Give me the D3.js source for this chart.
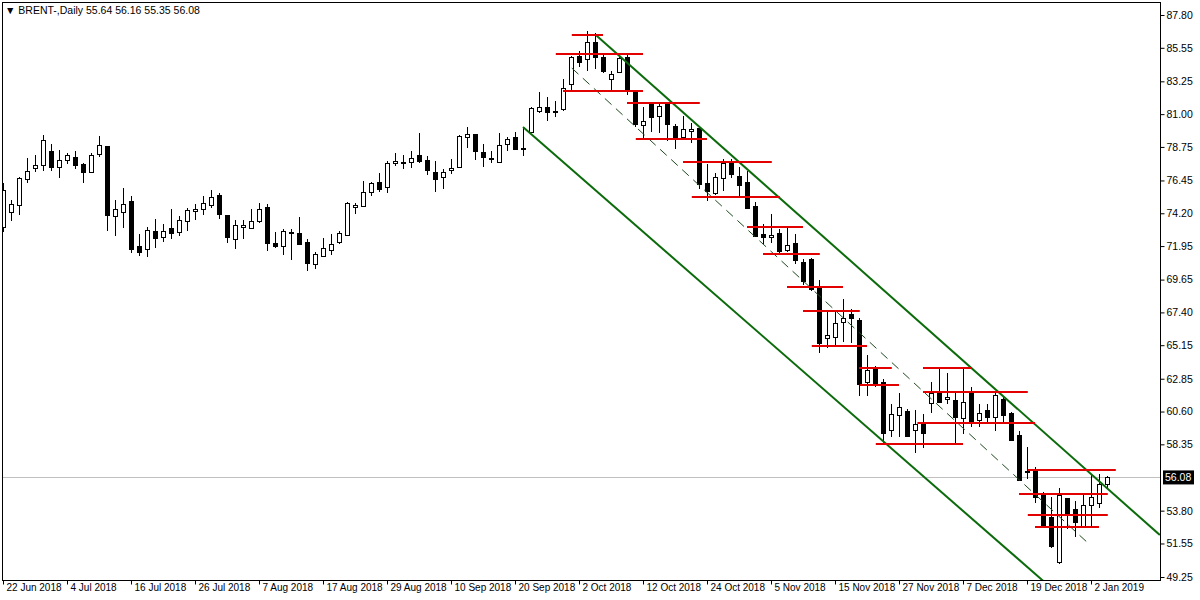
<!DOCTYPE html>
<html>
<head>
<meta charset="utf-8">
<script src="https://cdn.jsdelivr.net/npm/d3@7"></script>
<style>
  body { margin: 0; background: #fff; }
  svg text { font-family: "Liberation Sans", Arial, sans-serif; font-size: 10.5px; fill: #000; }
  .xaxis text { font-size: 10px; }
</style>
</head>
<body>
<svg id="chart" width="1200" height="600"></svg>
<script>
// daily BRENT candles
var opens = [73.26,74.29,74.77,76.55,77.30,77.51,78.47,77.37,77.85,78.06,77.58,77.03,78.26,78.81,74.01,74.29,75.04,71.95,71.75,72.98,
  72.57,73.19,72.91,73.67,74.35,74.49,74.77,75.45,74.08,72.43,73.26,73.19,73.67,74.63,72.16,71.95,72.85,72.85,72.23,70.72,
  71.27,71.68,72.23,72.71,74.63,74.70,75.66,76.34,76.00,77.65,77.68,77.72,78.20,77.85,77.03,76.69,77.20,77.37,79.43,79.64,
  78.40,77.97,77.72,78.95,79.43,78.68,79.77,81.21,81.49,81.19,81.35,83.07,84.99,84.78,85.95,84.92,83.41,83.89,84.92,82.52,
  80.25,81.69,80.87,81.69,80.19,79.43,79.84,80.05,76.28,75.59,76.62,77.65,76.76,76.34,74.70,72.78,72.57,72.85,71.68,72.16,
  70.85,71.06,69.14,65.64,65.71,66.74,67.29,66.88,62.62,63.51,62.62,59.33,60.36,60.63,59.33,59.74,61.18,61.87,61.46,61.39,
  60.15,61.87,60.02,60.70,60.22,61.46,60.50,58.99,56.52,56.52,54.87,53.36,50.28,54.66,53.91,52.75,54.19,54.32,55.64];
var highs = [76.30,75.10,76.69,77.99,78.20,79.57,78.95,78.54,78.33,78.47,77.65,78.33,79.50,78.81,75.11,75.93,75.38,72.78,73.26,73.81,
  73.46,74.49,74.01,74.56,74.83,75.38,75.80,75.59,74.08,73.74,73.74,74.49,74.90,74.83,72.91,73.12,73.12,73.94,72.43,71.54,
  72.50,72.78,72.98,74.97,74.90,76.41,76.34,76.96,77.78,78.33,78.20,78.47,79.71,78.13,77.78,77.24,77.92,79.57,80.12,79.64,
  78.95,78.47,79.71,79.43,79.77,80.05,81.49,82.52,82.17,81.90,83.41,84.99,85.33,86.70,86.57,85.19,83.96,85.06,85.06,82.52,
  81.49,81.76,81.76,81.76,80.32,80.87,80.39,80.05,77.58,76.96,77.92,77.92,77.37,77.10,74.97,73.46,74.15,73.12,73.26,72.78,
  71.06,71.13,69.62,67.43,67.43,68.32,67.63,67.01,64.48,63.72,62.83,61.11,61.87,60.77,60.70,60.43,62.62,63.58,63.24,61.87,
  63.65,62.28,61.11,61.11,61.94,61.60,60.57,59.26,58.16,56.79,55.08,54.73,55.35,54.66,54.46,54.87,56.31,56.31,56.16];
var lows = [72.90,73.67,74.08,76.28,77.03,77.10,77.10,76.62,77.58,77.24,76.28,76.96,78.06,72.98,72.64,73.19,71.47,71.27,71.20,71.82,
  72.23,72.43,72.64,72.98,73.74,74.08,74.56,73.81,72.16,71.75,72.43,73.12,73.53,71.61,71.82,71.34,70.99,72.09,70.24,70.38,
  71.20,71.34,72.09,72.64,74.15,74.63,75.38,75.66,75.59,77.44,77.24,77.30,77.65,76.82,75.66,75.86,76.89,77.30,78.68,77.85,
  77.37,77.65,77.65,78.47,78.61,78.13,79.77,81.08,80.53,80.80,81.21,82.52,84.23,83.96,84.10,83.82,82.66,83.82,82.31,80.12,
  79.22,79.77,79.70,79.16,78.61,79.29,79.02,75.86,75.04,75.45,75.73,76.62,75.25,74.56,72.57,72.09,72.16,71.47,71.54,70.72,
  69.28,68.87,64.61,64.96,65.02,65.37,65.30,61.66,61.66,62.28,58.44,58.85,58.85,58.85,57.75,58.10,60.50,61.18,61.11,58.44,
  59.06,59.54,59.54,59.88,59.26,59.88,58.58,55.90,55.97,54.32,52.68,51.24,50.14,52.54,51.99,52.68,52.68,53.98,55.35];
var closes = [75.80,74.83,76.62,77.10,77.51,79.22,77.37,77.85,78.20,77.51,77.03,78.20,78.88,74.08,74.49,74.83,71.75,71.54,73.05,72.50,
  72.98,72.85,73.74,74.42,74.49,74.90,75.31,74.15,72.57,73.39,73.39,73.67,74.49,72.16,71.95,72.98,72.91,72.09,70.79,71.41,
  71.82,72.09,72.85,74.90,74.77,75.66,76.28,75.86,77.65,77.78,77.72,77.99,77.78,77.17,76.55,77.03,77.28,79.50,79.64,78.47,
  78.06,78.01,78.88,79.30,78.61,78.70,81.42,81.49,81.15,81.23,82.79,84.92,84.58,85.95,84.92,83.96,83.75,84.85,82.59,80.32,
  80.53,80.80,81.56,80.32,79.43,79.98,79.98,76.21,75.73,76.69,77.65,76.89,76.14,74.56,72.64,72.57,72.71,71.61,72.02,70.99,
  69.55,69.00,65.30,65.85,66.67,67.01,67.01,62.49,63.45,62.42,59.12,60.43,60.91,58.92,59.74,59.12,61.87,61.25,61.59,60.22,
  61.25,59.81,60.50,60.22,61.73,60.36,58.64,55.90,56.45,54.73,52.75,51.37,54.87,53.50,53.02,54.19,54.73,55.63,56.08];

// x axis labels, one every 8 bars
var dateTicks = [0,8,16,24,32,40,48,56,64,72,80,88,96,104,112,120,128,136];
var dateLabels = ["22 Jun 2018","4 Jul 2018","16 Jul 2018","26 Jul 2018","7 Aug 2018","17 Aug 2018","29 Aug 2018",
  "10 Sep 2018","20 Sep 2018","2 Oct 2018","12 Oct 2018","24 Oct 2018","5 Nov 2018","15 Nov 2018","27 Nov 2018",
  "7 Dec 2018","19 Dec 2018","2 Jan 2019"];
var priceTicks = [87.80,85.55,83.25,81.00,78.75,76.45,74.20,71.95,69.65,67.40,65.15,62.85,60.60,58.35,53.80,51.55,49.25];
var lastPrice = 56.08;

// channel: upper, lower, middle (bar index, price)
var upperLine = [[74.1, 86.43], [144.6, 52.13]];
var lowerLine = [[65.0, 80.12], [135.0, 46.60]];
var midLine = [[71.1, 84.16], [135.9, 51.44]];

// red horizontal levels: [from bar, to bar, price]
var levelFrom = [71.1,69.1,70.0,78.0,79.1,85.0,86.1,93.0,95.0,98.0,100.0,101.1,107.0,107.1,115.0,115.0,114.3,109.1,128.1,127.0,128.1,129.0];
var levelTo   = [75.0,80.0,80.0,87.1,88.0,96.1,97.1,100.0,102.1,105.0,107.1,108.0,111.1,112.0,121.1,128.1,129.0,120.0,139.1,138.1,138.1,137.0];
var levelPrice = [86.43,85.12,82.59,81.76,79.29,77.72,75.31,73.26,71.40,69.14,67.49,65.09,63.58,62.42,63.58,61.94,59.81,58.37,56.59,54.94,53.50,52.68];

var svg = d3.select("#chart");
var plotLeft = 2, plotRight = 1160, plotTop = 2, plotBottom = 580;

var x = d3.scaleLinear().domain([0, 139]).range([3, 1115]);
var y = d3.scaleLinear().domain([49.25, 87.80]).range([577, 15]);

svg.append("clipPath").attr("id", "clip")
  .append("rect").attr("x", plotLeft).attr("y", plotTop)
  .attr("width", plotRight - plotLeft).attr("height", plotBottom - plotTop);

var plot = svg.append("g").attr("clip-path", "url(#clip)");

// current price line
plot.append("line")
  .attr("x1", plotLeft).attr("x2", plotRight)
  .attr("y1", Math.round(y(lastPrice)) + 0.5).attr("y2", Math.round(y(lastPrice)) + 0.5)
  .attr("stroke", "#c0c0c0").attr("stroke-width", 1);

// candles
var bars = plot.append("g").attr("shape-rendering", "crispEdges");
opens.forEach(function(o, i) {
  var cx = Math.round(x(i)) + 0.5;
  var c = closes[i];
  bars.append("line")
    .attr("x1", cx).attr("x2", cx)
    .attr("y1", y(highs[i])).attr("y2", y(lows[i]))
    .attr("stroke", "#000");
  var yt = Math.round(y(Math.max(o, c))), yb = Math.round(y(Math.min(o, c)));
  bars.append("rect")
    .attr("x", cx - 2).attr("y", yt + 0.5)
    .attr("width", 4).attr("height", Math.max(yb - yt, 1))
    .attr("fill", c >= o ? "#fff" : "#000")
    .attr("stroke", "#000");
});

// channel lines
var line = d3.line().x(function(d) { return x(d[0]); }).y(function(d) { return y(d[1]); });
[upperLine, lowerLine].forEach(function(l) {
  plot.append("path").attr("d", line(l)).attr("stroke", "#0b6b0b").attr("stroke-width", 2).attr("fill", "none");
});
plot.append("path").attr("d", line(midLine)).attr("stroke", "#1e4a1e").attr("stroke-width", 1)
  .attr("stroke-dasharray", "9,6").attr("fill", "none");

// red levels
levelPrice.forEach(function(p, k) {
  plot.append("line")
    .attr("x1", x(levelFrom[k])).attr("x2", x(levelTo[k]))
    .attr("y1", Math.round(y(p))).attr("y2", Math.round(y(p)))
    .attr("stroke", "#e30000").attr("stroke-width", 2);
});

// frame
svg.append("rect").attr("x", plotLeft + 0.5).attr("y", plotTop + 0.5)
  .attr("width", plotRight - plotLeft).attr("height", plotBottom - plotTop)
  .attr("fill", "none").attr("stroke", "#000").attr("shape-rendering", "crispEdges");

// price axis
var yAxis = d3.axisRight(y).tickValues(priceTicks).tickSize(4).tickFormat(d3.format(".2f"));
var ya = svg.append("g").attr("transform", "translate(" + (plotRight + 0.5) + ",0)").call(yAxis);
ya.select(".domain").remove();
ya.selectAll("text").attr("x", 6);

// last price box
var ly = y(lastPrice);
svg.append("rect").attr("x", plotRight + 3).attr("y", ly - 7).attr("width", 31).attr("height", 14).attr("fill", "#000");
svg.append("text").attr("x", plotRight + 5).attr("y", ly + 4).style("fill", "#fff").text(d3.format(".2f")(lastPrice));

// date axis
var xAxis = d3.axisBottom(x).tickValues(dateTicks).tickSize(4)
  .tickFormat(function(d, k) { return dateLabels[k]; });
var xa = svg.append("g").attr("class", "xaxis").attr("transform", "translate(0," + (plotBottom + 0.5) + ")").call(xAxis);
xa.select(".domain").remove();
xa.selectAll("text").attr("text-anchor", "start").attr("x", 3).attr("y", 3).attr("dy", "0.71em");

// title
svg.append("text").attr("x", 5).attr("y", 14).text("\u25BC BRENT-,Daily  55.64 56.16 55.35 56.08");
</script>
</body>
</html>
